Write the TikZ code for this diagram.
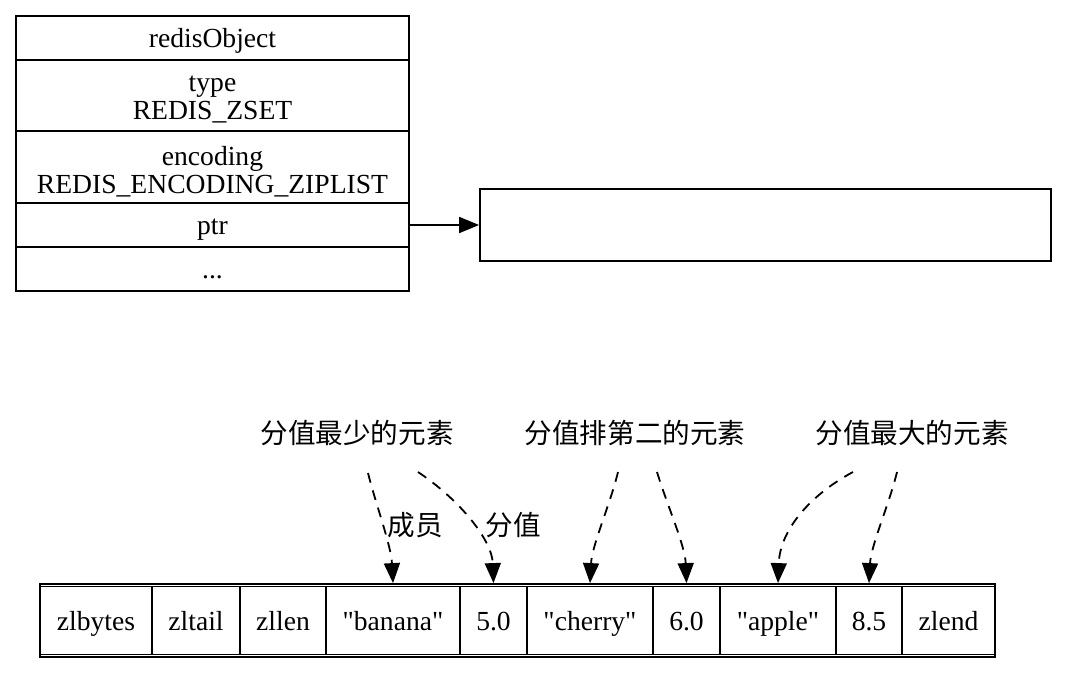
\documentclass[tikz,border=0pt]{standalone}
\usepackage{fontspec}
\setmainfont{Liberation Serif}[Ligatures=TeXOff]
\newfontfamily\cjk{Noto Sans CJK SC}
\usetikzlibrary{arrows.meta}
\tikzset{
  base/.style={inner sep=0pt, font=\fontsize{13.8pt}{14pt}\selectfont, align=center},
  box/.style={draw, line width=0.9pt, inner sep=0pt},
  cell/.style={base, box, text height=11.5pt, text depth=2pt},
  lbl/.style={base, font=\fontsize{13.8pt}{14pt}\selectfont\cjk},
  ptrarrow/.style={line width=0.9pt, -{Triangle[length=10pt,width=8pt]}},
  dasharrow/.style={line width=0.9pt, dash pattern=on 5pt off 4pt, -{Triangle[length=10pt,width=8pt]}}
}
\begin{document}
\begin{tikzpicture}[x=0.5pt, y=-0.5pt]
\useasboundingbox (0,0) rectangle (1071,674);
% redisObject record
\node[cell, minimum width=196.5pt, minimum height=22pt] (r1) at (212.5,38) {redisObject};
\node[box, minimum width=196.5pt, minimum height=35.5pt] (r2) at (212.5,95.5) {};
\node[base] (r2t) at (212.5,100) {type\\REDIS\_ZSET};
\node[box, minimum width=196.5pt, minimum height=36pt] (r3) at (212.5,167) {};
\node[base] (r3t) at (212.5,171.5) {encoding\\REDIS\_ENCODING\_ZIPLIST};
\node[cell, minimum width=196.5pt, minimum height=22pt] (r4) at (212.5,225) {ptr};
\node[cell, minimum width=196.5pt, minimum height=22pt] (r5) at (212.5,269) {...};
% empty target box
\node[box, minimum width=285.5pt, minimum height=36pt] (zs) at (765.5,225) {};
\draw[ptrarrow] (r4.east) -- (zs.west);
% ziplist
\node[box, minimum width=477.5pt, minimum height=36.5pt] (zl) at (517.5,620.5) {};
\node[cell, minimum width=56pt, minimum height=34pt] (z1) at (96,620.5) {zlbytes};
\node[cell, minimum width=44pt, minimum height=34pt] (z2) at (196,620.5) {zltail};
\node[cell, minimum width=43pt, minimum height=34pt] (z3) at (283,620.5) {zllen};
\node[cell, minimum width=67pt, minimum height=34pt] (z4) at (393,620.5) {"banana"};
\node[cell, minimum width=33.5pt, minimum height=34pt] (z5) at (493.5,620.5) {5.0};
\node[cell, minimum width=63pt, minimum height=34pt] (z6) at (590,620.5) {"cherry"};
\node[cell, minimum width=33.5pt, minimum height=34pt] (z7) at (686.5,620.5) {6.0};
\node[cell, minimum width=58pt, minimum height=34pt] (z8) at (778,620.5) {"apple"};
\node[cell, minimum width=33pt, minimum height=34pt] (z9) at (869,620.5) {8.5};
\node[cell, minimum width=46.5pt, minimum height=34pt] (z10) at (948.5,620.5) {zlend};
% labels
\node[lbl] (l1) at (357,433) {分值最少的元素};
\node[lbl] (l2) at (635,433) {分值排第二的元素};
\node[lbl] (l3) at (912,433) {分值最大的元素};
\coordinate (t1) at (368,473);
\coordinate (t2) at (418,472);
\coordinate (t3) at (618,472);
\coordinate (t4) at (657,472);
\coordinate (t5) at (853,472);
\coordinate (t6) at (897,472);
\coordinate (h1) at (z4.north |- zl.north);
\coordinate (h2) at (z5.north |- zl.north);
\coordinate (h3) at (z6.north |- zl.north);
\coordinate (h4) at (z7.north |- zl.north);
\coordinate (h5) at (z8.north |- zl.north);
\coordinate (h6) at (z9.north |- zl.north);
\draw[dasharrow] (t1) .. controls (376,505) and (391,545) .. (h1);
\draw[dasharrow] (t2) .. controls (460,500) and (492,540) .. (h2);
\draw[dasharrow] (t3) .. controls (610,505) and (592,545) .. (h3);
\draw[dasharrow] (t4) .. controls (667,505) and (685,545) .. (h4);
\draw[dasharrow] (t5) .. controls (810,495) and (780,530) .. (h5);
\draw[dasharrow] (t6) .. controls (889,505) and (871,545) .. (h6);
\node[lbl] (m1) at (415,525) {成员};
\node[lbl] (m2) at (513,525) {分值};
\end{tikzpicture}
\end{document}
